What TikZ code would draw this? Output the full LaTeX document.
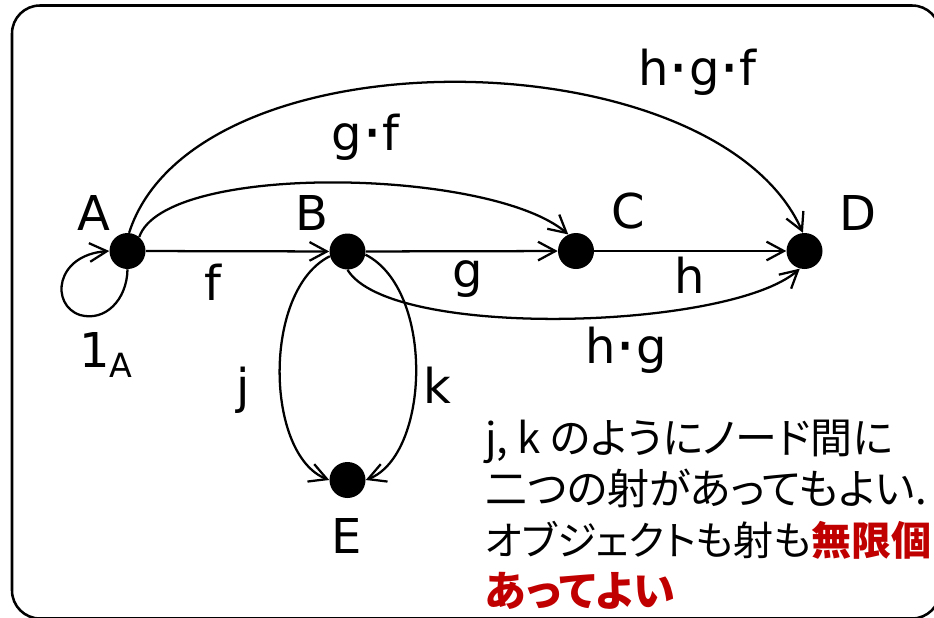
\documentclass[tikz,border=0pt]{standalone}
\usepackage{fontspec}
\setmainfont{DejaVu Sans}
\newfontfamily\jpfont[RawFeature=+palt]{Noto Sans CJK JP}
\usetikzlibrary{arrows.meta}
\definecolor{notered}{RGB}{192,0,0}
\newcommand{\mdt}{{\fontsize{48pt}{48pt}\selectfont\raisebox{-4.2pt}{·}}}
\begin{document}
\begin{tikzpicture}[x=0.75pt,y=-0.75pt,
  obj/.style={circle,fill=black,minimum size=27pt,inner sep=0pt},
  lbl/.style={font=\fontsize{36pt}{40pt}\selectfont,inner sep=0pt,anchor=base},
  jp/.style={font=\jpfont\fontsize{31.5pt}{38pt}\selectfont,inner sep=0pt,anchor=base west},
  arr/.style={line width=1.7pt,-{Straight Barb[length=13pt,width=14pt,line width=1.7pt]}}
]
\useasboundingbox (0,0) rectangle (934,617);
\clip (0,0) rectangle (934,617);
\draw[line width=1.9pt,rounded corners=21pt] (12,5.5) rectangle (940,618.5);

% objects
\node[obj] (A) at (127.5,251) {};
\node[obj] (B) at (347.5,251.5) {};
\node[obj] (C) at (576,251) {};
\node[obj] (D) at (804.5,251) {};
\node[obj] (E) at (347.5,480) {};

% labels
\node[lbl] (lA) at (94,230) {A};
\node[lbl] (lB) at (311.5,230) {B};
\node[lbl] (lC) at (628,228) {C};
\node[lbl] (lD) at (857.5,230) {D};
\node[lbl] (lE) at (346.5,553) {E};
\node[lbl] (lf) at (213,300) {f};
\node[lbl] (lg) at (467.5,287) {g};
\node[lbl] (lh) at (690,293) {h};
\node[lbl] (lgf) at (365.5,150) {g\mdt f};
\node[lbl] (lhgf) at (697.5,85) {h\mdt g\mdt f};
\node[lbl] (lhg) at (626,363) {h\mdt g};
\node[lbl] (lj) at (243,403) {j};
\node[lbl] (lk) at (437.5,403) {k};
\node[lbl] (lid) at (106,367) {1\raisebox{-7.5pt}{\fontsize{25pt}{25pt}\selectfont A}};

% arrows
\draw[arr] (A) -- (B);
\draw[arr] (B) -- (C);
\draw[arr] (C) -- (D);
\draw[arr] (A.50) .. controls (165,162) and (490,168) .. (C.115);
\draw[arr] (A.85) .. controls (195,28) and (715,36) .. (D.95);
\draw[arr] (B.-90) .. controls (390,340) and (730,330) .. (D.-105);
\draw[arr] (B.195) .. controls (262,290) and (265,455) .. (E.180);
\draw[arr] (B.-10) .. controls (435,290) and (430,455) .. (E.0);
\draw[arr] (A.south) .. controls (127,300) and (105,322) .. (80,315)
  .. controls (50,305) and (55,255) .. (A.180);

% note
\node[jp] (n1) at (485,453) {j, k のようにノード間に};
\node[jp] (n2) at (485,504) {二つの射があってもよい.};
\node[jp,font=\jpfont\fontsize{30pt}{38pt}\selectfont] (n3) at (485,555) {オブジェクトも射も{\bfseries\color{notered}無限個}};
\node[jp] (n4) at (485,606) {{\bfseries\color{notered}あってよい}};
\end{tikzpicture}
\end{document}
